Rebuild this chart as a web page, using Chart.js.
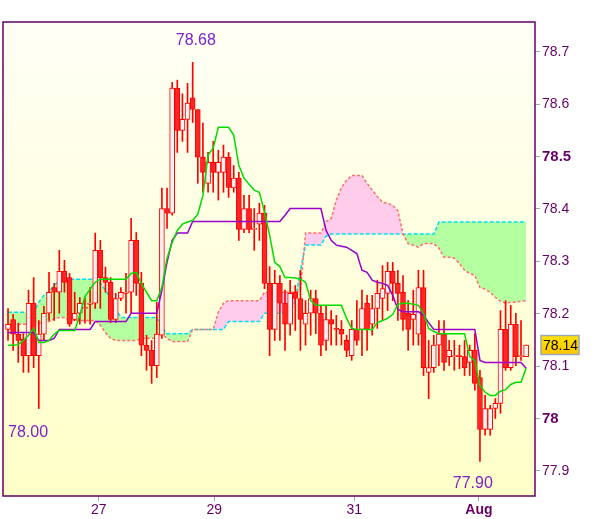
<!DOCTYPE html>
<html>
<head>
<meta charset="utf-8">
<script src="https://cdn.jsdelivr.net/npm/chart.js@4.4.1/dist/chart.umd.min.js"></script>
<style>
  html, body { margin: 0; padding: 0; background: #ffffff; }
</style>
</head>
<body>
<canvas id="priceChart" width="600" height="519"></canvas>
<script>
// candles, oldest first (one bar per step)
const opens = [78.170,78.189,78.161,78.151,78.120,78.220,78.120,78.161,78.201,78.250,
  78.241,78.281,78.269,78.189,78.201,78.210,78.218,78.220,78.321,78.269,
  78.260,78.189,78.229,78.239,78.241,78.340,78.258,78.140,78.130,78.101,
  78.159,78.401,78.392,78.631,78.550,78.571,78.612,78.590,78.499,78.449,
  78.489,78.470,78.470,78.499,78.440,78.459,78.361,78.401,78.361,78.371,
  78.392,78.258,78.170,78.258,78.220,78.180,78.241,78.229,78.180,78.201,
  78.229,78.201,78.149,78.189,78.172,78.170,78.149,78.120,78.170,78.170,
  78.220,78.180,78.210,78.229,78.239,78.281,78.258,78.241,78.201,78.189,
  78.161,78.250,78.088,78.097,78.140,78.161,78.118,78.118,78.120,78.118,
  78.107,78.130,78.078,77.979,77.979,78.019,78.029,78.170,78.097,78.180,
  78.118,78.118];
const highs = [78.210,78.199,78.182,78.162,78.245,78.269,78.187,78.214,78.279,78.258,
  78.321,78.302,78.277,78.241,78.231,78.231,78.250,78.354,78.340,78.289,
  78.269,78.239,78.250,78.277,78.382,78.355,78.279,78.159,78.149,78.222,
  78.440,78.440,78.642,78.646,78.620,78.640,78.680,78.590,78.564,78.508,
  78.529,78.512,78.522,78.508,78.483,78.470,78.426,78.426,78.401,78.411,
  78.407,78.290,78.283,78.273,78.245,78.264,78.254,78.283,78.225,78.245,
  78.245,78.216,78.216,78.206,78.197,78.187,78.159,78.187,78.225,78.245,
  78.235,78.235,78.264,78.292,78.298,78.298,78.283,78.273,78.225,78.245,
  78.283,78.283,78.149,78.159,78.187,78.187,78.149,78.149,78.140,78.149,
  78.140,78.162,78.092,78.044,78.025,78.038,78.206,78.225,78.216,78.201,
  78.187,78.140];
const lows = [78.149,78.130,78.107,78.088,78.088,78.097,78.019,78.149,78.187,78.187,
  78.201,78.241,78.176,78.187,78.180,78.182,78.180,78.210,78.210,78.241,
  78.183,78.183,78.225,78.201,78.201,78.235,78.120,78.092,78.067,78.078,
  78.153,78.363,78.388,78.508,78.529,78.508,78.565,78.449,78.432,78.432,
  78.432,78.417,78.432,78.422,78.432,78.340,78.355,78.355,78.321,78.340,
  78.248,78.120,78.149,78.149,78.130,78.159,78.168,78.130,78.140,78.159,
  78.162,78.120,78.130,78.140,78.140,78.140,78.118,78.111,78.140,78.120,
  78.130,78.159,78.172,78.187,78.206,78.225,78.187,78.168,78.130,78.140,
  78.140,78.082,78.038,78.088,78.101,78.092,78.101,78.092,78.095,78.082,
  78.082,78.054,77.918,77.968,77.968,78.000,78.010,78.092,78.092,78.101,
  78.111,78.118];
const closes = [78.180,78.161,78.149,78.120,78.220,78.120,78.161,78.201,78.241,78.241,
  78.281,78.260,78.180,78.201,78.220,78.212,78.220,78.321,78.269,78.260,
  78.189,78.229,78.241,78.241,78.340,78.258,78.140,78.130,78.101,78.161,
  78.401,78.392,78.631,78.550,78.571,78.602,78.590,78.499,78.470,78.489,
  78.470,78.489,78.499,78.441,78.459,78.361,78.401,78.361,78.363,78.392,
  78.258,78.170,78.258,78.220,78.180,78.239,78.229,78.189,78.201,78.229,
  78.201,78.140,78.189,78.180,78.170,78.161,78.130,78.170,78.149,78.210,
  78.170,78.210,78.239,78.248,78.281,78.258,78.239,78.189,78.170,78.199,
  78.250,78.097,78.097,78.140,78.161,78.107,78.130,78.120,78.118,78.097,
  78.130,78.067,77.979,78.019,78.019,78.029,78.170,78.097,78.180,78.118,
  78.120,78.140];

// ichimoku lines
const tenkan = [78.140,78.140,78.141,78.149,78.159,78.172,78.145,78.145,78.149,78.161,
  78.168,78.168,78.168,78.168,78.197,78.233,78.247,78.260,78.266,78.266,
  78.266,78.266,78.266,78.266,78.277,78.279,78.258,78.241,78.225,78.225,
  78.250,78.306,78.336,78.359,78.371,78.375,78.378,78.390,78.426,78.503,
  78.516,78.556,78.556,78.556,78.541,78.483,78.459,78.447,78.436,78.432,
  78.394,78.350,78.298,78.290,78.269,78.269,78.268,78.266,78.260,78.225,
  78.216,78.216,78.216,78.216,78.216,78.216,78.191,78.172,78.170,78.170,
  78.170,78.170,78.183,78.187,78.191,78.199,78.218,78.220,78.220,78.218,
  78.216,78.201,78.172,78.166,78.162,78.162,78.162,78.162,78.162,78.162,
  78.118,78.111,78.063,78.050,78.044,78.044,78.052,78.055,78.065,78.069,
  78.069,78.096];
const kijun = [78.164,78.164,78.164,78.164,78.164,78.164,78.149,78.149,78.149,78.153,
  78.170,78.170,78.170,78.170,78.170,78.170,78.170,78.185,78.185,78.185,
  78.185,78.185,78.185,78.185,78.201,78.201,78.201,78.201,78.201,78.201,
  78.245,78.298,78.340,78.354,78.354,78.354,78.376,78.376,78.376,78.376,
  78.376,78.376,78.376,78.376,78.376,78.376,78.376,78.376,78.376,78.376,
  78.376,78.376,78.376,78.376,78.388,78.401,78.401,78.401,78.401,78.401,
  78.401,78.401,78.359,78.340,78.331,78.329,78.327,78.321,78.315,78.283,
  78.279,78.264,78.260,78.258,78.254,78.235,78.208,78.204,78.204,78.204,
  78.204,78.197,78.183,78.170,78.170,78.170,78.170,78.170,78.170,78.170,
  78.170,78.170,78.111,78.107,78.107,78.107,78.107,78.107,78.107,78.107,
  78.107,78.096];
const spanA = [78.203,78.203,78.203,78.203,78.203,78.203,78.222,78.235,78.243,78.254,
  78.264,78.266,78.266,78.266,78.266,78.266,78.266,78.266,78.258,78.245,
  78.229,78.210,78.193,78.193,78.193,78.193,78.193,78.193,78.193,78.193,
  78.174,78.162,78.162,78.162,78.162,78.162,78.170,78.170,78.170,78.170,
  78.170,78.170,78.170,78.185,78.185,78.185,78.185,78.185,78.185,78.185,
  78.201,78.201,78.201,78.201,78.201,78.201,78.225,78.283,78.331,78.331,
  78.331,78.331,78.348,78.352,78.352,78.352,78.352,78.352,78.352,78.352,
  78.352,78.352,78.352,78.352,78.352,78.352,78.352,78.352,78.352,78.352,
  78.352,78.352,78.352,78.352,78.375,78.375,78.375,78.375,78.375,78.375,
  78.375,78.375,78.375,78.375,78.375,78.375,78.375,78.375,78.375,78.375,
  78.375,78.375];
const spanB = [78.180,78.180,78.180,78.180,78.180,78.180,78.182,78.183,78.185,78.191,
  78.193,78.193,78.187,78.187,78.187,78.187,78.187,78.187,78.178,78.164,
  78.153,78.149,78.149,78.149,78.149,78.149,78.153,78.153,78.153,78.153,
  78.162,78.153,78.147,78.147,78.147,78.147,78.170,78.170,78.170,78.170,
  78.170,78.203,78.220,78.225,78.225,78.225,78.225,78.225,78.225,78.225,
  78.241,78.241,78.241,78.241,78.241,78.241,78.241,78.245,78.354,78.354,
  78.354,78.354,78.376,78.382,78.417,78.441,78.455,78.464,78.464,78.464,
  78.449,78.436,78.424,78.413,78.411,78.407,78.397,78.352,78.334,78.331,
  78.327,78.334,78.334,78.334,78.325,78.308,78.308,78.306,78.296,78.283,
  78.277,78.273,78.250,78.247,78.241,78.231,78.224,78.220,78.222,78.222,
  78.224,78.225];

// axis labels
const xTickPos = [17.7, 40.2, 67.5, 91.8];
const xTickLabels = ['27', '29', '31', 'Aug'];
const yTicks = [77.9, 78.0, 78.1, 78.2, 78.3, 78.4, 78.5, 78.6, 78.7];

// high / low notes and last price
const markTexts = ['78.68', '78.00', '77.90'];
const markX = [36.6, 3.9, 90.6];
const markY = [78.722, 77.973, 77.876];
const lastPrice = 78.14;

const FONT = '"Liberation Sans", Arial, sans-serif';
const pts = arr => arr.map((v, i) => ({x: i, y: v}));
const isUp = i => closes[i] >= opens[i];

const chartBg = {
    id: 'chartBg',
    beforeDraw(chart)
    {
        const {ctx, chartArea: a} = chart;
        ctx.save();
        ctx.fillStyle = '#ffffff';
        ctx.fillRect(0, 0, chart.width, chart.height);
        const g = ctx.createLinearGradient(0, a.top, 0, a.bottom);
        g.addColorStop(0, '#fffff6');
        g.addColorStop(1, '#ffffc8');
        ctx.fillStyle = g;
        ctx.fillRect(a.left, a.top, a.right - a.left, a.bottom - a.top);
        ctx.restore();
    }
};

const chartFrame = {
    id: 'chartFrame',
    afterDraw(chart)
    {
        const {ctx, chartArea: a} = chart;
        const xs = chart.scales.x, ys = chart.scales.y;
        ctx.save();
        ctx.strokeStyle = '#660066';
        ctx.lineWidth = 1.5;
        ctx.strokeRect(a.left, a.top, a.right - a.left, a.bottom - a.top);

        //High / low notes
        ctx.font = '16px ' + FONT;
        ctx.fillStyle = '#8020c8';
        ctx.textAlign = 'center';
        ctx.textBaseline = 'middle';
        markTexts.forEach((t, k) => {
            ctx.fillText(t, xs.getPixelForValue(markX[k]), ys.getPixelForValue(markY[k]));
        });

        //Last price box
        const py = Math.round(ys.getPixelForValue(lastPrice));
        const g = ctx.createLinearGradient(0, py - 10, 0, py + 10);
        g.addColorStop(0, '#ffe400');
        g.addColorStop(1, '#ffc400');
        ctx.fillStyle = g;
        ctx.fillRect(a.right + 6, py - 9.5, 38, 19);
        ctx.strokeStyle = '#99aabb';
        ctx.lineWidth = 1.5;
        ctx.strokeRect(a.right + 6, py - 9.5, 38, 19);
        ctx.fillStyle = '#000000';
        ctx.font = '14px ' + FONT;
        ctx.textAlign = 'left';
        ctx.fillText(lastPrice.toFixed(2), a.right + 8, py + 1);
        ctx.restore();
    }
};

const ctx = document.getElementById('priceChart').getContext('2d');
new Chart(ctx, {
    type: 'bar',
    data: {
        datasets: [
            {
                type: 'line', label: 'Tenkan', data: pts(tenkan), order: 0,
                borderColor: '#00dd00', borderWidth: 1.5, pointRadius: 0, tension: 0, fill: false
            },
            {
                type: 'line', label: 'Kijun', data: pts(kijun), order: 1,
                borderColor: '#9900cc', borderWidth: 1.5, pointRadius: 0, tension: 0, fill: false
            },
            {
                label: 'Body', order: 2, grouped: false,
                data: opens.map((o, i) => ({x: i, y: [o, closes[i]]})),
                barThickness: 5, minBarLength: 1, borderWidth: 1, borderSkipped: false,
                borderColor: '#ff0000',
                backgroundColor: c => isUp(c.dataIndex) ? '#f6f2f2' : '#ff2626'
            },
            {
                label: 'Wick', order: 3, grouped: false,
                data: highs.map((h, i) => ({x: i, y: [lows[i], h]})),
                barThickness: 1, borderWidth: 0, backgroundColor: '#ff0000'
            },
            {
                type: 'line', label: 'Span B', data: pts(spanB), order: 4,
                borderColor: '#ff6f6f', borderWidth: 1.5, borderDash: [3, 2],
                pointRadius: 0, tension: 0, fill: false
            },
            {
                type: 'line', label: 'Span A', data: pts(spanA), order: 5,
                borderColor: '#00e0f0', borderWidth: 1.5, borderDash: [4, 2],
                pointRadius: 0, tension: 0,
                fill: {target: 4, above: '#b4ffa0', below: '#ffccec'}
            }
        ]
    },

    options: {
        responsive: false,
        animation: false,
        layout: { padding: { top: 22, left: 3, right: 0, bottom: 0 } },
        plugins: {
            legend: { display: false },
            tooltip: { enabled: false },
            filler: { drawTime: 'beforeDatasetsDraw' }
        },
        scales: {
            x: {
                type: 'linear',
                min: -0.975,
                max: 102.73,
                offset: false,
                grid: { drawOnChartArea: false, offset: false, tickLength: 5, color: '#a0a8b0' },
                border: { display: false },
                afterBuildTicks: scale => { scale.ticks = xTickPos.map(v => ({value: v})); },
                afterFit: scale => { scale.height = 23; },
                ticks: {
                    autoSkip: false,
                    maxRotation: 0,
                    padding: 1,
                    color: '#660066',
                    callback: (v, i) => xTickLabels[i],
                    font: c => ({family: FONT, size: 14, weight: c.index === 3 ? 'bold' : 'normal'})
                }
            },
            y: {
                position: 'right',
                min: 77.852,
                max: 78.757,
                grid: { drawOnChartArea: false, tickLength: 5, color: '#a0a8b0' },
                border: { display: false },
                afterBuildTicks: scale => { scale.ticks = yTicks.map(v => ({value: v})); },
                afterFit: scale => { scale.width = 65; },
                ticks: {
                    padding: 2,
                    color: '#660066',
                    callback: v => String(Math.round(v * 10) / 10),
                    font: c => {
                        const v = c.tick ? c.tick.value : 0;
                        const strong = Math.abs(v - 78) < 1e-6 || Math.abs(v - 78.5) < 1e-6;
                        return {family: FONT, size: strong ? 15 : 14, weight: strong ? 'bold' : 'normal'};
                    }
                }
            }
        }
    },
    plugins: [chartBg, chartFrame]
});
</script>
</body>
</html>
